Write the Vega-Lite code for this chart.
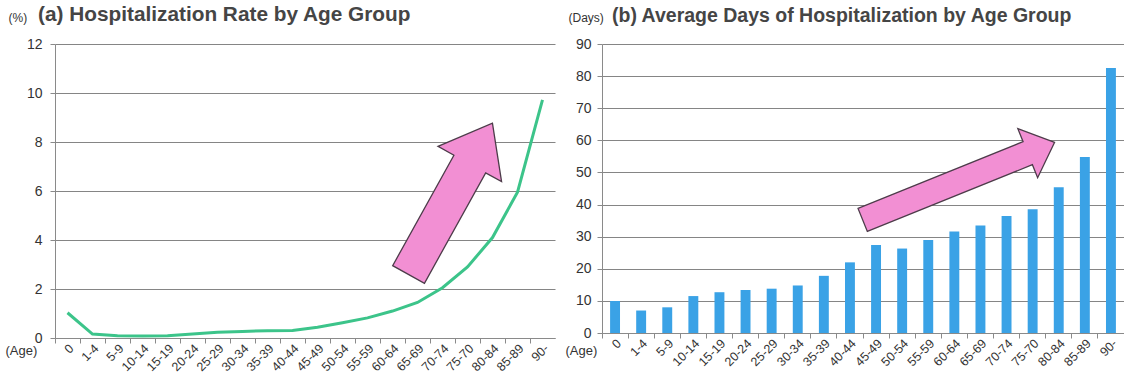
{
  "$schema": "https://vega.github.io/schema/vega-lite/v6.json",
  "background": "white",
  "padding": {"left": 5, "top": 4, "right": 0, "bottom": 0},
  "spacing": 10,
  "config": {
    "font": "Liberation Sans",
    "view": {"stroke": null},
    "axis": {
      "labelColor": "#333333",
      "labelFontSize": 14,
      "titleColor": "#333333",
      "titleFontWeight": "normal",
      "domainColor": "#8a8a8a",
      "tickColor": "#8a8a8a",
      "gridColor": "#858585",
      "gridOpacity": 1
    },
    "title": {"fontWeight": "bold", "color": "#454545", "anchor": "start", "frame": "group"}
  },
  "datasets": {
    "rate": [
      {"age": "0", "rate": 1.03},
      {"age": "1-4", "rate": 0.16},
      {"age": "5-9", "rate": 0.09},
      {"age": "10-14", "rate": 0.08},
      {"age": "15-19", "rate": 0.09},
      {"age": "20-24", "rate": 0.16},
      {"age": "25-29", "rate": 0.23},
      {"age": "30-34", "rate": 0.27},
      {"age": "35-39", "rate": 0.3},
      {"age": "40-44", "rate": 0.31},
      {"age": "45-49", "rate": 0.44},
      {"age": "50-54", "rate": 0.62},
      {"age": "55-59", "rate": 0.82},
      {"age": "60-64", "rate": 1.1},
      {"age": "65-69", "rate": 1.45},
      {"age": "70-74", "rate": 2.05},
      {"age": "75-70", "rate": 2.9},
      {"age": "80-84", "rate": 4.1},
      {"age": "85-89", "rate": 5.95},
      {"age": "90-", "rate": 9.72}
    ],
    "days": [
      {"age": "0", "days": 10.0},
      {"age": "1-4", "days": 7.0},
      {"age": "5-9", "days": 8.0},
      {"age": "10-14", "days": 11.5},
      {"age": "15-19", "days": 12.7},
      {"age": "20-24", "days": 13.4},
      {"age": "25-29", "days": 13.8},
      {"age": "30-34", "days": 14.8},
      {"age": "35-39", "days": 17.8},
      {"age": "40-44", "days": 22.0},
      {"age": "45-49", "days": 27.4},
      {"age": "50-54", "days": 26.3},
      {"age": "55-59", "days": 29.0},
      {"age": "60-64", "days": 31.6},
      {"age": "65-69", "days": 33.5},
      {"age": "70-74", "days": 36.4},
      {"age": "75-70", "days": 38.5},
      {"age": "80-84", "days": 45.4},
      {"age": "85-89", "days": 54.8},
      {"age": "90-", "days": 82.5}
    ],
    "trendA": [{"age": "70-74", "rate": 5.68}],
    "trendB": [{"age": "60-64", "days": 47.3}]
  },
  "hconcat": [
    {
      "width": 500,
      "height": 294,
      "title": {"text": "(a) Hospitalization Rate by Age Group", "fontSize": 20.8, "dx": -17, "offset": -15},
      "encoding": {
        "x": {
          "field": "age",
          "type": "ordinal",
          "sort": null,
          "scale": {"type": "band", "paddingInner": 0, "paddingOuter": 0,
            "domain": ["0", "1-4", "5-9", "10-14", "15-19", "20-24", "25-29", "30-34", "35-39", "40-44", "45-49", "50-54", "55-59", "60-64", "65-69", "70-74", "75-70", "80-84", "85-89", "90-"]},
          "axis": {
            "title": "(Age)", "titleX": -50, "titleY": 12, "titleAngle": 0, "titleAlign": "left", "titleBaseline": "middle", "titleFontSize": 13,
            "labelAngle": -45, "labelAlign": "right", "labelBaseline": "middle", "labelFontSize": 12.5,
            "bandPosition": 0, "labelOffset": 4, "labelPadding": 3, "tickSize": 5, "grid": false
          }
        },
        "y": {
          "field": "rate",
          "type": "quantitative",
          "scale": {"domain": [0, 12], "nice": false},
          "axis": {
            "title": "(%)", "titleX": -47, "titleY": -27, "titleAngle": 0, "titleAlign": "left", "titleBaseline": "middle", "titleFontSize": 12,
            "values": [0, 2, 4, 6, 8, 10, 12], "tickSize": 5, "labelPadding": 8, "grid": true
          }
        }
      },
      "layer": [
        {
          "data": {"name": "rate"},
          "mark": {"type": "line", "color": "#3cc48a", "strokeWidth": 3}
        },
        {
          "data": {"name": "trendA"},
          "mark": {
            "type": "point",
            "shape": "M0,-1 L0.42,-0.46 L0.21,-0.46 L0.21,1 L-0.21,1 L-0.21,-0.46 L-0.42,-0.46 Z",
            "filled": true, "fill": "#f28fd3", "stroke": "#4d3c4a", "strokeWidth": 1.3, "opacity": 1,
            "size": 29929, "angle": 29, "xOffset": 8
          }
        }
      ]
    },
    {
      "width": 522,
      "height": 289,
      "title": {"text": "(b) Average Days of Hospitalization by Age Group", "fontSize": 19.5, "dx": 10, "offset": -15},
      "encoding": {
        "x": {
          "field": "age",
          "type": "ordinal",
          "sort": null,
          "scale": {"type": "band", "paddingInner": 0, "paddingOuter": 0,
            "domain": ["0", "1-4", "5-9", "10-14", "15-19", "20-24", "25-29", "30-34", "35-39", "40-44", "45-49", "50-54", "55-59", "60-64", "65-69", "70-74", "75-70", "80-84", "85-89", "90-"]},
          "axis": {
            "title": "(Age)", "titleX": -37, "titleY": 17, "titleAngle": 0, "titleAlign": "left", "titleBaseline": "middle", "titleFontSize": 13,
            "labelAngle": -45, "labelAlign": "right", "labelBaseline": "middle", "labelFontSize": 12.5,
            "bandPosition": 0, "labelOffset": 4, "labelPadding": 3, "tickSize": 5, "grid": false
          }
        },
        "y": {
          "field": "days",
          "type": "quantitative",
          "scale": {"domain": [0, 90], "nice": false},
          "axis": {
            "title": "(Days)", "titleX": -34, "titleY": -27, "titleAngle": 0, "titleAlign": "left", "titleBaseline": "middle", "titleFontSize": 12,
            "values": [0, 10, 20, 30, 40, 50, 60, 70, 80, 90], "tickSize": 5, "labelPadding": 6, "grid": true
          }
        }
      },
      "layer": [
        {
          "data": {"name": "days"},
          "mark": {"type": "bar", "color": "#3aa2e6", "width": {"band": 0.38}}
        },
        {
          "data": {"name": "trendB"},
          "mark": {
            "type": "point",
            "shape": "M0,-1 L0.255,-0.72 L0.12,-0.72 L0.12,1 L-0.12,1 L-0.12,-0.72 L-0.255,-0.72 Z",
            "filled": true, "fill": "#f28fd3", "stroke": "#4d3c4a", "strokeWidth": 1.3, "opacity": 1,
            "size": 42849, "angle": 68, "xOffset": 4.3
          }
        }
      ]
    }
  ]
}
